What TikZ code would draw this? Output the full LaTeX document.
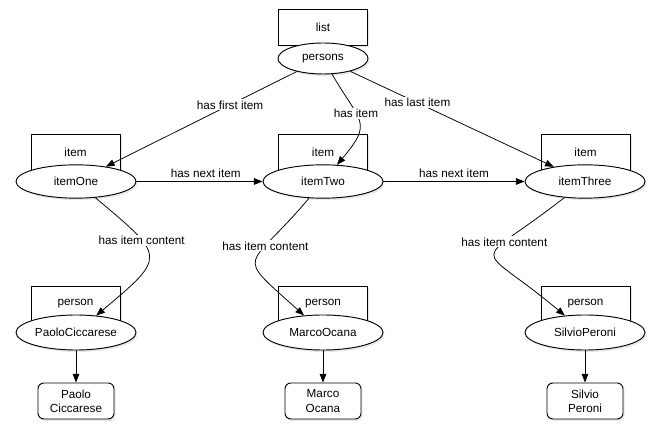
\documentclass[tikz,border=0pt]{standalone}
\usepackage{fontspec}
\setmainfont{Liberation Sans}
\usetikzlibrary{shapes.geometric,arrows.meta,shadows}

\tikzset{
  shade/.style={drop shadow={opacity=0.18,shadow xshift=0.5mm,shadow yshift=-0.6mm}},
  cls/.style={draw, line width=0.8pt, fill=white, shade, minimum width=2.67cm, minimum height=1.08cm},
  ind/.style={ellipse, draw, line width=0.8pt, fill=white, shade, minimum width=3.6cm, minimum height=1cm, inner sep=0pt},
  lit/.style={draw, line width=0.8pt, fill=white, shade, rounded corners=5pt, align=center, minimum width=2.28cm, minimum height=1.08cm},
  rel/.style={-{Triangle[length=2.6mm,width=2mm]}, line width=0.65pt},
  lbl/.style={fill=white, inner sep=1pt}
}

\begin{document}
\begin{tikzpicture}
  \useasboundingbox (0,0) rectangle (19.98,13.08);

  % the list
  \node[cls] (listCls) at (9.69,12.27) {list};
  \node[ind, minimum width=2.7cm, minimum height=0.93cm] (persons) at (9.69,11.325) {persons};

  % the items
  \node[cls] (itemOneCls) at (2.265,8.52) {item};
  \node[ind] (itemOne) at (2.28,7.635) {itemOne};
  \node[cls] (itemTwoCls) at (9.69,8.52) {item};
  \node[ind] (itemTwo) at (9.69,7.635) {itemTwo};
  \node[cls] (itemThreeCls) at (17.565,8.52) {item};
  \node[ind] (itemThree) at (17.55,7.635) {itemThree};

  % the persons
  \node[cls] (paoloCls) at (2.265,3.96) {person};
  \node[ind, minimum height=1.05cm] (paolo) at (2.28,3.105) {PaoloCiccarese};
  \node[cls] (marcoCls) at (9.69,3.96) {person};
  \node[ind, minimum height=1.05cm] (marco) at (9.69,3.105) {MarcoOcana};
  \node[cls] (silvioCls) at (17.565,3.96) {person};
  \node[ind, minimum height=1.05cm] (silvio) at (17.55,3.105) {SilvioPeroni};

  % names
  \node[lit] (paoloName) at (2.28,1.05) {Paolo\\Ciccarese};
  \node[lit] (marcoName) at (9.69,1.05) {Marco\\Ocana};
  \node[lit] (silvioName) at (17.55,1.05) {Silvio\\Peroni};

  \draw[rel] (persons) -- node[lbl, pos=0.35] {has first item} (itemOne);
  \draw[rel] (persons) to[out=-60, in=50, looseness=1.6] node[lbl, pos=0.38] {has item} (itemTwo);
  \draw[rel] (persons) -- node[lbl, pos=0.33] {has last item} (itemThree);

  \draw[rel] (itemOne) -- node[above, pos=0.55] {has next item} (itemTwo);
  \draw[rel] (itemTwo) -- node[above] {has next item} (itemThree);

  \draw[rel] (itemOne) to[out=-40, in=40, looseness=2] node[lbl, pos=0.32] {has item content} (paolo);
  \draw[rel] (itemTwo) to[out=-130, in=138, looseness=2.1] node[lbl, pos=0.32] {has item content} (marco);
  \draw[rel] (itemThree) to[out=-142, in=140, looseness=2.6] node[lbl, pos=0.31] {has item content} (silvio);

  \draw[rel] (paolo) -- (paoloName);
  \draw[rel] (marco) -- (marcoName);
  \draw[rel] (silvio) -- (silvioName);
\end{tikzpicture}
\end{document}
